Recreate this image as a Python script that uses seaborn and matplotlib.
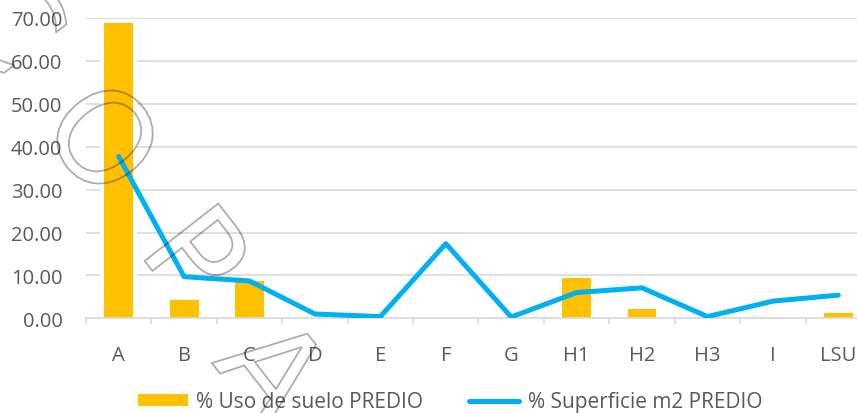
import numpy as np
import pandas as pd
import matplotlib
matplotlib.use("Agg")
import matplotlib.pyplot as plt
import seaborn as sns
from matplotlib.textpath import TextPath
from matplotlib.patches import PathPatch
from matplotlib.font_manager import FontProperties
from matplotlib.transforms import Affine2D, IdentityTransform
from matplotlib.ticker import FixedLocator, FuncFormatter

# --- data -------------------------------------------------------------
categories = ["A", "B", "C", "D", "E", "F", "G", "H1", "H2", "H3", "I", "LSU"]
uso_suelo = [68.8, 4.3, 8.6, 0.0, 0.0, 0.0, 0.0, 9.4, 2.1, 0.0, 0.0, 1.2]
superficie = [37.7, 9.7, 8.7, 1.0, 0.4, 17.4, 0.3, 6.0, 7.1, 0.4, 4.0, 5.4]
y_ticks = [0, 10, 20, 30, 40, 50, 60, 70]
label_uso = "% Uso de suelo PREDIO"
label_sup = "% Superficie m2 PREDIO"

df = pd.DataFrame({
    "cat": categories,
    "pos": np.arange(len(categories)),
    "uso": uso_suelo,
    "sup": superficie,
})

# --- style ------------------------------------------------------------
sns.set_theme(style="white")
plt.rcParams["font.family"] = ["Open Sans", "DejaVu Sans"]
TEXT = "#595959"
GRID = "#D9D9D9"
GOLD = "#FFC000"
BLUE = "#00B0F0"

W, H, DPI = 857, 414, 100
fig = plt.figure(figsize=(W / DPI, H / DPI), dpi=DPI)
fig.patch.set_facecolor("white")

left_px, right_px = 86, 871
top_px, base_px = 19, 319.3
ax = fig.add_axes([left_px / W, (H - base_px) / H,
                   (right_px - left_px) / W, (base_px - top_px) / H])
ax.set_facecolor("white")
ax.set_axisbelow(True)

# white halo behind the bars interrupts the gridlines
ax.bar(df["pos"], df["uso"], width=0.56, color="white", linewidth=0, zorder=0.9)
sns.barplot(data=df, x="pos", y="uso", color=GOLD, width=0.44, saturation=1,
            linewidth=0, ax=ax, label=label_uso, native_scale=True, zorder=1)
sns.lineplot(data=df, x="pos", y="sup", color=BLUE, linewidth=3.6, sort=False,
             ax=ax, label=label_sup, solid_capstyle="round",
             solid_joinstyle="round", zorder=3)
if ax.get_legend() is not None:
    ax.get_legend().remove()

ax.set_xlim(-0.5, len(categories) - 0.5)
ax.set_ylim(0, 70)
ax.set_xlabel("")
ax.set_ylabel("")

ax.yaxis.set_major_locator(FixedLocator(y_ticks))
ax.yaxis.set_major_formatter(FuncFormatter(lambda v, p: f"{v:.2f}"))
ax.set_xticks(df["pos"])
ax.set_xticklabels(categories)
ax.xaxis.set_minor_locator(FixedLocator(np.arange(len(categories) + 1) - 0.5))

ax.grid(axis="y", color=GRID, linewidth=1.2)
ax.grid(axis="x", visible=False)
for side in ("top", "right", "left"):
    ax.spines[side].set_visible(False)
ax.spines["bottom"].set_color(GRID)
ax.spines["bottom"].set_linewidth(1.2)

ax.tick_params(axis="y", length=0, pad=17, labelsize=14.5, labelcolor=TEXT)
ax.tick_params(axis="x", which="minor", length=4, width=1.2, color=GRID,
               direction="out", bottom=True, labelbottom=False)
ax.tick_params(axis="x", which="major", length=0, labelsize=14.5,
               labelcolor=TEXT)
for tick in ax.xaxis.get_major_ticks():
    tick.set_pad(19)

# --- legend -----------------------------------------------------------
handles, labels = ax.get_legend_handles_labels()
order = [labels.index(label_uso), labels.index(label_sup)]
leg = fig.legend([handles[i] for i in order], [labels[i] for i in order],
                 loc="center", bbox_to_anchor=(450 / W, 11 / H),
                 ncol=2, frameon=False, fontsize=15, handlelength=2.4,
                 handleheight=0.5, handletextpad=0.4, columnspacing=2.2,
                 borderpad=0, borderaxespad=0)
for t in leg.get_texts():
    t.set_color(TEXT)

# --- outlined watermark ----------------------------------------------
fp = FontProperties(family="DejaVu Sans")
size = 128
angle = -52
letters = ["C", "O", "P", "A"]
centers = [(12, 20), (105, 138), (200, 257), (275, 369)]
for ch, (cx, cy) in zip(letters, centers):
    path = TextPath((0, 0), ch, size=size, prop=fp)
    ext = path.get_extents()
    tr = (Affine2D()
          .translate(-(ext.x0 + ext.width / 2), -(ext.y0 + ext.height / 2))
          .rotate_deg(angle)
          .translate(cx, H - cy))
    fig.add_artist(PathPatch(tr.transform_path(path), facecolor="none",
                             edgecolor=(0, 0, 0, 0.32), linewidth=1.3,
                             transform=IdentityTransform(), zorder=10))

fig.savefig("out.png", dpi=DPI, facecolor="white")
